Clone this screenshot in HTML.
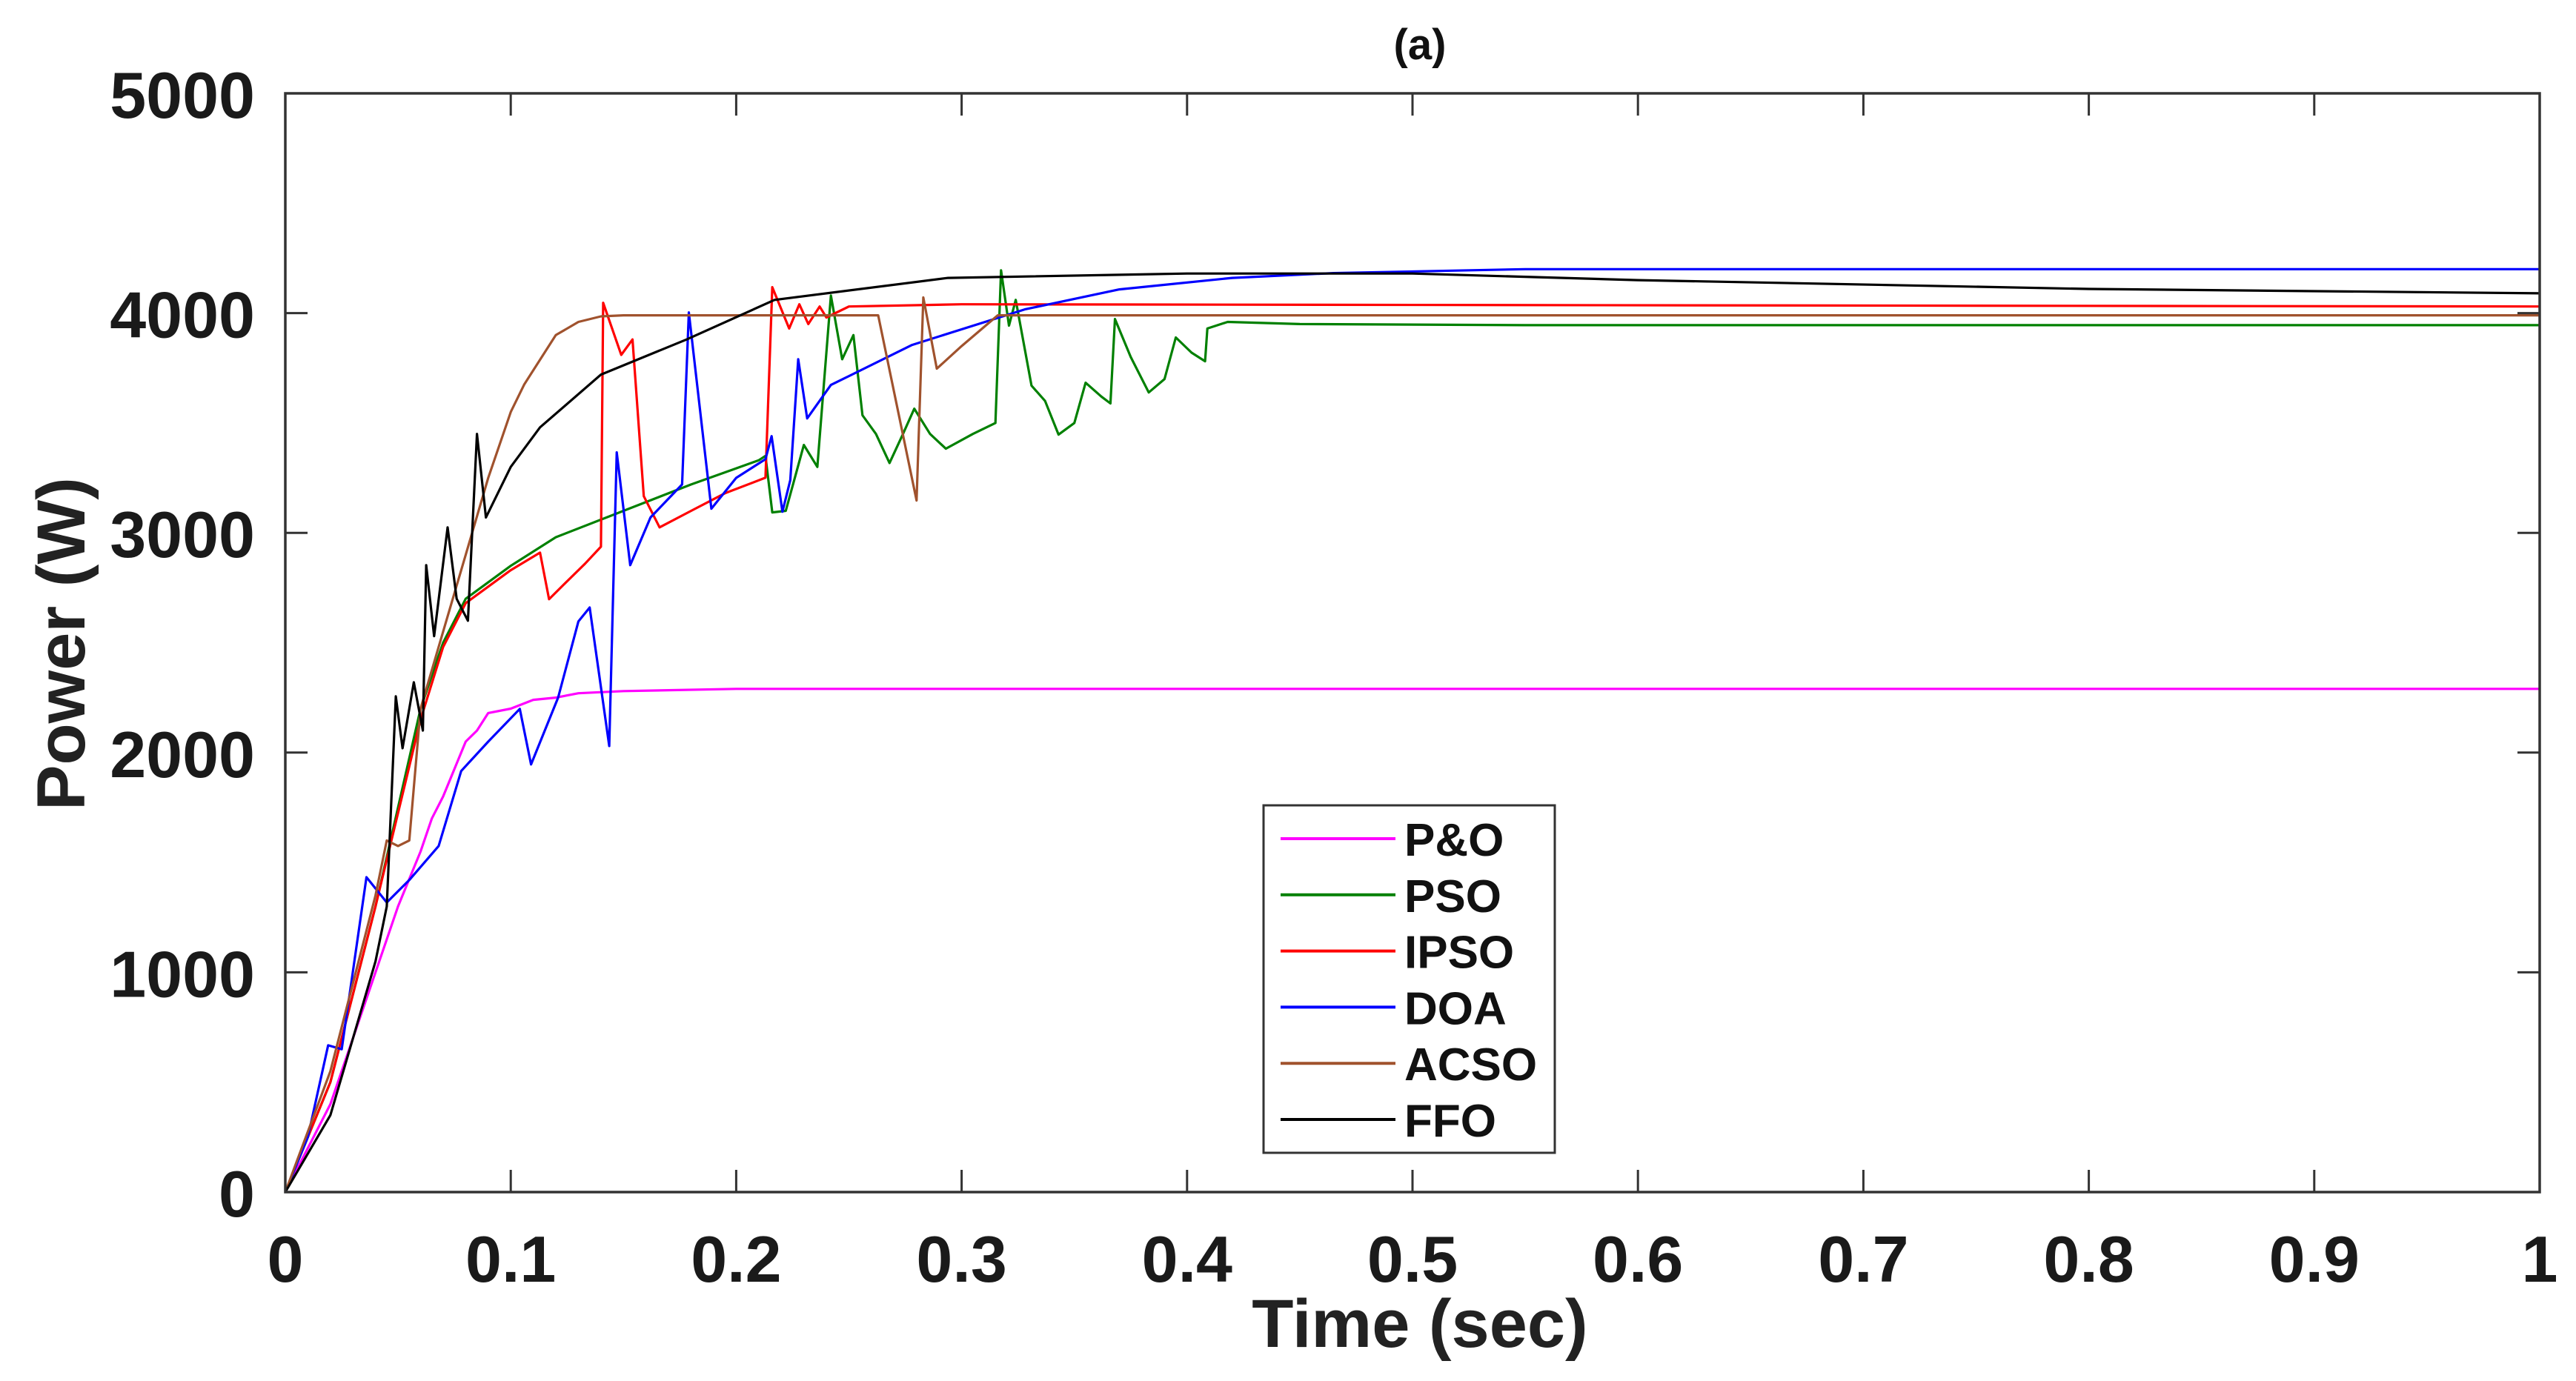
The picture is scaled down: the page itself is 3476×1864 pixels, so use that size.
<!DOCTYPE html>
<html><head><meta charset="utf-8"><style>
html,body{margin:0;padding:0;background:#fff;}
svg{display:block;font-family:"Liberation Sans",Arial,sans-serif;font-weight:bold;}
</style></head><body>
<svg id="chart" width="3476" height="1864" viewBox="0 0 3476 1864" xmlns="http://www.w3.org/2000/svg">
<rect width="3476" height="1864" fill="#fff"/>
<text x="1916" y="80" font-size="58" text-anchor="middle" fill="#111">(a)</text>
<g id="plot"></g>
<text x="1916" y="1818" font-size="92" text-anchor="middle" fill="#222">Time (sec)</text>
<text x="0" y="0" font-size="92" text-anchor="middle" fill="#222" transform="translate(114,869) rotate(-90)">Power (W)</text>
<g id="legend"></g>
</svg>
<script>
const xTicks=[0,0.1,0.2,0.3,0.4,0.5,0.6,0.7,0.8,0.9,1];
const xTickLabels=["0","0.1","0.2","0.3","0.4","0.5","0.6","0.7","0.8","0.9","1"];
const yTicks=[0,1000,2000,3000,4000,5000];
const yTickLabels=["0","1000","2000","3000","4000","5000"];
const seriesNames=["P&O","PSO","IPSO","DOA","ACSO","FFO"];
const seriesColors=["#ff00ff","#008000","#ff0000","#0000ff","#a0522d","#000000"];
const pnoData=[[0,0],[0.02,400],[0.04,1000],[0.05,1300],[0.06,1550],[0.065,1700],[0.07,1800],[0.08,2050],[0.085,2100],[0.09,2180],[0.1,2200],[0.11,2240],[0.12,2250],[0.13,2270],[0.15,2280],[0.2,2290],[0.5,2290],[1,2290]];
const psoData=[[0,0],[0.02,500],[0.04,1300],[0.06,2200],[0.07,2500],[0.08,2700],[0.1,2850],[0.12,2980],[0.15,3100],[0.18,3220],[0.21,3330],[0.213,3350],[0.216,3093],[0.222,3100],[0.23,3400],[0.236,3300],[0.242,4080],[0.247,3790],[0.252,3900],[0.256,3535],[0.262,3450],[0.268,3318],[0.274,3450],[0.279,3565],[0.286,3450],[0.293,3383],[0.305,3450],[0.315,3500],[0.3175,4195],[0.321,3943],[0.324,4060],[0.331,3670],[0.337,3600],[0.343,3447],[0.35,3500],[0.355,3683],[0.362,3620],[0.366,3589],[0.368,3973],[0.375,3800],[0.383,3639],[0.39,3700],[0.395,3889],[0.402,3820],[0.408,3781],[0.409,3930],[0.418,3960],[0.45,3950],[0.55,3945],[1,3945]];
const ipsoData=[[0,0],[0.02,500],[0.04,1300],[0.06,2150],[0.07,2480],[0.08,2680],[0.1,2830],[0.113,2910],[0.117,2698],[0.125,2780],[0.133,2860],[0.14,2937],[0.141,4047],[0.149,3810],[0.154,3880],[0.159,3167],[0.166,3025],[0.18,3100],[0.195,3180],[0.213,3251],[0.216,4118],[0.2235,3930],[0.228,4040],[0.232,3950],[0.237,4030],[0.24,3980],[0.25,4030],[0.3,4040],[1,4030]];
const doaData=[[0,0],[0.01,250],[0.019,668],[0.025,650],[0.036,1433],[0.045,1318],[0.055,1420],[0.068,1575],[0.078,1916],[0.09,2050],[0.104,2199],[0.109,1946],[0.121,2250],[0.13,2597],[0.135,2660],[0.1437,2030],[0.147,3366],[0.153,2853],[0.162,3070],[0.176,3220],[0.179,4003],[0.189,3110],[0.2,3250],[0.213,3335],[0.2157,3440],[0.2205,3096],[0.224,3240],[0.2275,3790],[0.2315,3521],[0.242,3673],[0.278,3855],[0.328,4017],[0.37,4108],[0.42,4160],[0.465,4182],[0.55,4200],[1,4200]];
const acsoData=[[0,0],[0.02,550],[0.04,1350],[0.045,1600],[0.05,1575],[0.055,1600],[0.06,2200],[0.07,2550],[0.08,2900],[0.09,3250],[0.1,3550],[0.106,3676],[0.12,3900],[0.13,3960],[0.14,3985],[0.15,3990],[0.263,3990],[0.28,3147],[0.283,4071],[0.289,3747],[0.3,3850],[0.316,3990],[1,3990]];
const ffoData=[[0,0],[0.02,350],[0.03,700],[0.04,1050],[0.045,1300],[0.049,2256],[0.052,2020],[0.057,2320],[0.061,2100],[0.0625,2853],[0.066,2530],[0.072,3025],[0.076,2700],[0.081,2600],[0.085,3450],[0.089,3070],[0.1,3300],[0.113,3480],[0.14,3720],[0.178,3880],[0.217,4060],[0.294,4160],[0.4,4180],[0.5,4180],[0.6,4150],[0.8,4110],[1,4090]];
const allData=[pnoData,psoData,ipsoData,doaData,acsoData,ffoData];

const L=385,R=3427,T=126,B=1609;
const NS="http://www.w3.org/2000/svg";
function xs(t){return L+(R-L)*t;}
function ys(p){return B-(B-T)*p/5000;}
function mk(tag,attrs,parent){const e=document.createElementNS(NS,tag);for(const k in attrs)e.setAttribute(k,attrs[k]);parent.appendChild(e);return e;}
const plot=document.getElementById('plot');
const svg=document.getElementById('chart');
allData.forEach((d,i)=>{
  const p=mk('polyline',{points:d.map(q=>xs(q[0]).toFixed(1)+','+ys(q[1]).toFixed(1)).join(' '),fill:'none',stroke:seriesColors[i],'stroke-width':3.2,'stroke-linejoin':'round'},plot);
  
  
});
const fr=mk('rect',{x:L,y:T,width:R-L,height:B-T,fill:'none',stroke:'#333','stroke-width':3.5},plot);


xTicks.forEach((v,i)=>{
  const x=xs(v);
  const t1=mk('path',{d:`M${x},${B}V${B-30}M${x},${T}V${T+30}`,stroke:'#333','stroke-width':3},plot);
  
  
  const tx=mk('text',{x:x,y:1730,'font-size':88,'text-anchor':'middle',fill:'#1a1a1a'},svg);
  tx.textContent=xTickLabels[i];
  
  
});
yTicks.forEach((v,i)=>{
  const y=ys(v);
  const t1=mk('path',{d:`M${L},${y}H${L+30}M${R},${y}H${R-30}`,stroke:'#333','stroke-width':3},plot);
  
  
  const tx=mk('text',{x:344,y:y+33,'font-size':88,'text-anchor':'end',fill:'#1a1a1a'},svg);
  tx.textContent=yTickLabels[i];
  
  
});
const lg=document.getElementById('legend');
const lb=mk('rect',{x:1705,y:1087,width:393,height:469,fill:'#fff',stroke:'#333','stroke-width':3},lg);


seriesNames.forEach((n,i)=>{
  const y=1132+i*75.8;
  const ln=mk('line',{x1:1728,x2:1883,y1:y,y2:y,stroke:seriesColors[i],'stroke-width':4},lg);
  
  
  const tx=mk('text',{x:1895,y:y+23,'font-size':62,fill:'#111'},lg);
  tx.textContent=n;
  
  
});
</script>
</body></html>
